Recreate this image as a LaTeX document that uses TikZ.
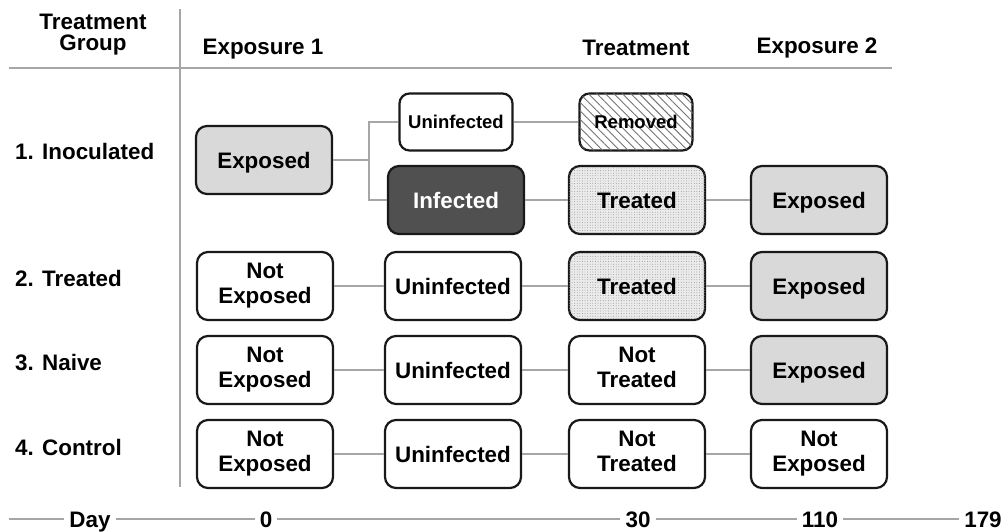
\documentclass[tikz,border=0pt]{standalone}
\usepackage{fontspec}
\setmainfont{Liberation Sans}
\usetikzlibrary{patterns.meta}
\definecolor{lgray}{HTML}{D9D9D9}
\definecolor{dgray}{HTML}{505050}
\definecolor{cgray}{HTML}{A6A6A6}
\tikzset{
  box/.style={draw=black!90, line width=2.2pt, rounded corners=11pt, fill=white,
    minimum width=136pt, minimum height=68pt, inner sep=0pt, align=center,
    font=\fontsize{22.4}{25}\selectfont\bfseries},
  one/.style={text height=16pt, text depth=0pt},
  smallbox/.style={box, minimum width=113pt, minimum height=57pt, rounded corners=10pt,
    font=\fontsize{18.5}{21}\selectfont\bfseries, text height=13.3pt, text depth=0pt},
  exposedbox/.style={box, one, fill=lgray},
  infbox/.style={box, one, fill=dgray, text=white},
  treatbox/.style={box, one, fill=black!8, postaction={pattern={Dots[distance=2.6pt, radius=0.45pt]}, pattern color=black!45}},
  removedbox/.style={smallbox, fill=white, postaction={pattern={Lines[angle=-45, distance=6pt, line width=0.9pt]}, pattern color=black!55}},
  conn/.style={draw=cgray, line width=2pt},
  rule/.style={draw=cgray, line width=2pt},
  hdr/.style={font=\fontsize{22.4}{21}\selectfont\bfseries, align=center, inner sep=0pt},
  rowlab/.style={font=\fontsize{22.4}{25}\selectfont\bfseries, anchor=west, inner sep=0pt},
  axlab/.style={font=\fontsize{22.4}{25}\selectfont\bfseries, text height=16pt, text depth=0pt, inner sep=5pt}
}
\begin{document}
\begin{tikzpicture}[x=1pt, y=-1pt]
\useasboundingbox (0,0) rectangle (1004,532);
% header
\node[hdr] (hgroup) at (93,35) {Treatment\\Group};
\node[hdr] (hexp1) at (263,49) {Exposure 1};
\node[hdr] (htreat) at (636,48) {Treatment};
\node[hdr] (hexp2) at (817,48) {Exposure 2};
\coordinate (hl1) at (9,68);
\coordinate (hl2) at (892,68);
\coordinate (vl1) at (180,9);
\coordinate (vl2) at (180,487);
\draw[rule] (hl1) -- (hl2);
\draw[rule] (vl1) -- (vl2);
% row labels
\node[rowlab] (r1) at (15,151) {1. Inoculated};
\node[rowlab] (r2) at (15,278) {2. Treated};
\node[rowlab] (r3) at (15,363) {3. Naive};
\node[rowlab] (r4) at (15,447) {4. Control};
% row 1
\node[exposedbox] (e1) at (264,160) {Exposed};
\node[smallbox] (u1) at (456,122) {Uninfected};
\node[removedbox] (rm1) at (636,122) {Removed};
\node[infbox] (i1) at (456,200) {Infected};
\node[treatbox] (t1) at (637,200) {Treated};
\node[exposedbox] (x1) at (819,200) {Exposed};
% row 2
\node[box] (n2) at (265,286) {Not\\Exposed};
\node[box, one] (u2) at (453,286) {Uninfected};
\node[treatbox] (t2) at (637,286) {Treated};
\node[exposedbox] (x2) at (819,286) {Exposed};
% row 3
\node[box] (n3) at (265,370) {Not\\Exposed};
\node[box, one] (u3) at (453,370) {Uninfected};
\node[box] (t3) at (637,370) {Not\\Treated\vphantom{p}};
\node[exposedbox] (x3) at (819,370) {Exposed};
% row 4
\node[box] (n4) at (265,454) {Not\\Exposed};
\node[box, one] (u4) at (453,454) {Uninfected};
\node[box] (t4) at (637,454) {Not\\Treated\vphantom{p}};
\node[box] (x4) at (819,454) {Not\\Exposed};
% connectors
\coordinate (br) at (369,160);
\draw[conn] (e1.east) -- (br);
\draw[conn] (u1.west) -| (br) |- (i1.west);
\draw[conn] (u1) -- (rm1);
\draw[conn] (i1) -- (t1);
\draw[conn] (t1) -- (x1);
\draw[conn] (n2) -- (u2);
\draw[conn] (u2) -- (t2);
\draw[conn] (t2) -- (x2);
\draw[conn] (n3) -- (u3);
\draw[conn] (u3) -- (t3);
\draw[conn] (t3) -- (x3);
\draw[conn] (n4) -- (u4);
\draw[conn] (u4) -- (t4);
\draw[conn] (t4) -- (x4);
% day axis
\coordinate (ax0) at (9,519);
\node[axlab] (day) at (90,519) {Day};
\node[axlab] (d0) at (266,519) {0};
\node[axlab] (d30) at (638,519) {30};
\node[axlab] (d110) at (820,519) {110};
\node[axlab] (d179) at (983,519) {179};
\draw[rule] (ax0) -- (day);
\draw[rule] (day) -- (d0);
\draw[rule] (d0) -- (d30);
\draw[rule] (d30) -- (d110);
\draw[rule] (d110) -- (d179);
\end{tikzpicture}
\end{document}
